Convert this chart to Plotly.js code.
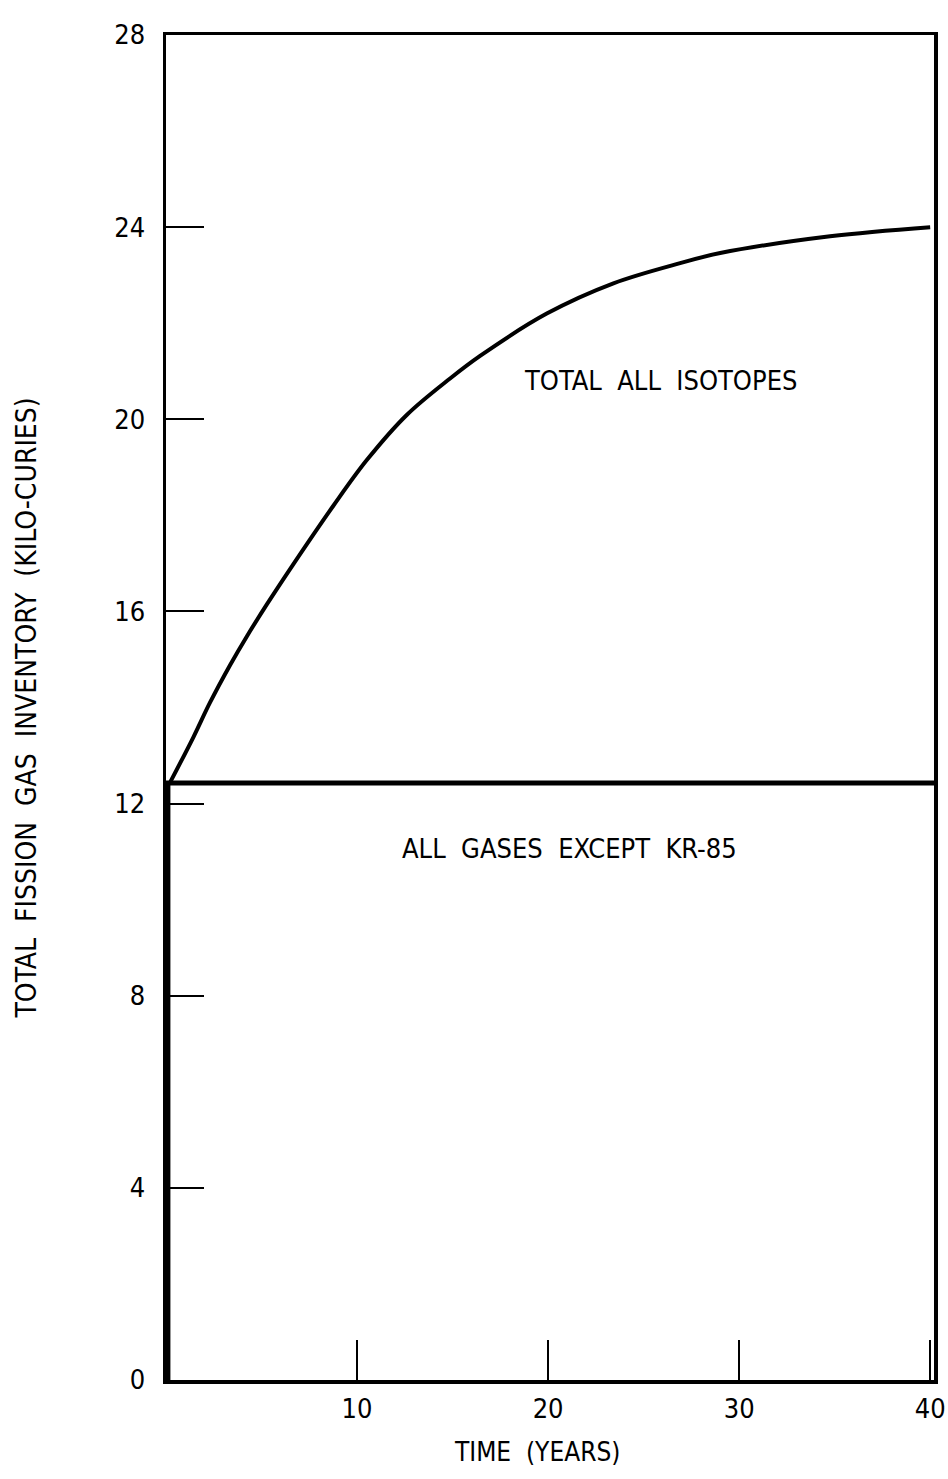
<!DOCTYPE html>
<html>
<head>
<meta charset="utf-8">
<script src="https://cdn.plot.ly/plotly-3.0.1.min.js"></script>
<style>
  html, body { margin: 0; padding: 0; background: #fff; }
  #chart { width: 948px; height: 1479px; }
</style>
</head>
<body>
<div id="chart"></div>
<script>
// Total fission gas inventory vs. time (kilo-curies)
const totalYears = [0.2, 1.43, 2.3, 3.35, 4.23, 5.27, 6.66, 8.76, 10.51, 12.6, 14.87, 16.44, 19.93, 23.42, 26.91, 29.01, 34.76, 40];
const totalKCi   = [12.43, 13.38, 14.1, 14.88, 15.48, 16.14, 16.98, 18.2, 19.15, 20.09, 20.85, 21.32, 22.2, 22.83, 23.25, 23.46, 23.81, 24.0];

// All gases except Kr-85: rises at start-up, then flat
const otherYears = [0.1, 0.1, 40.2];
const otherKCi   = [0, 12.43, 12.43];

const yTicks = [0, 4, 8, 12, 16, 20, 24, 28];
const xTicks = [10, 20, 30, 40];

const FONT = '"Liberation Sans Narrow", "DejaVu Sans Condensed", "Liberation Sans", sans-serif';

const traces = [
  { x: otherYears, y: otherKCi, mode: 'lines', line: { color: '#000', width: 5 }, hoverinfo: 'skip' },
  { x: totalYears, y: totalKCi, mode: 'lines', line: { color: '#000', width: 4, shape: 'spline', smoothing: 1 }, hoverinfo: 'skip' }
];

const layout = {
  width: 948, height: 1479,
  margin: { l: 166, r: 14, t: 35, b: 99 },
  paper_bgcolor: '#fff', plot_bgcolor: '#fff',
  showlegend: false,
  font: { family: FONT, color: '#000', size: 27 },
  xaxis: {
    range: [0, 40.2],
    tickmode: 'array', tickvals: xTicks, ticktext: xTicks.map(String),
    ticks: 'inside', ticklen: 40, tickwidth: 2, tickcolor: '#000',
    ticklabelstandoff: 2,
    showline: true, linecolor: '#000', linewidth: 3.5, mirror: true,
    showgrid: false, zeroline: false,
    tickfont: { family: FONT, size: 27 }
  },
  yaxis: {
    range: [0, 28],
    tickmode: 'array', tickvals: yTicks, ticktext: yTicks.map(String),
    ticks: 'inside', ticklen: 38, tickwidth: 2, tickcolor: '#000',
    ticklabelstandoff: 12,
    showline: true, linecolor: '#000', linewidth: 3.5, mirror: true,
    showgrid: false, zeroline: false,
    tickfont: { family: FONT, size: 27 },
    title: { text: 'TOTAL  FISSION  GAS  INVENTORY  (KILO-CURIES)', font: { family: FONT, size: 28 }, standoff: 70 }
  },
  annotations: [
    { x: 25.9, y: 20.8, xref: 'x', yref: 'y', text: 'TOTAL  ALL  ISOTOPES', showarrow: false,
      font: { family: FONT, size: 27, color: '#000' } },
    { x: 21.1, y: 11.07, xref: 'x', yref: 'y', text: 'ALL  GASES  EXCEPT  KR-85', showarrow: false,
      font: { family: FONT, size: 27, color: '#000' } },
    { x: 0.483, y: -0.0535, xref: 'paper', yref: 'paper', yanchor: 'middle', text: 'TIME  (YEARS)', showarrow: false,
      font: { family: FONT, size: 26, color: '#000' } }
  ]
};

Plotly.newPlot('chart', traces, layout, { staticPlot: true, displayModeBar: false });
</script>
</body>
</html>
